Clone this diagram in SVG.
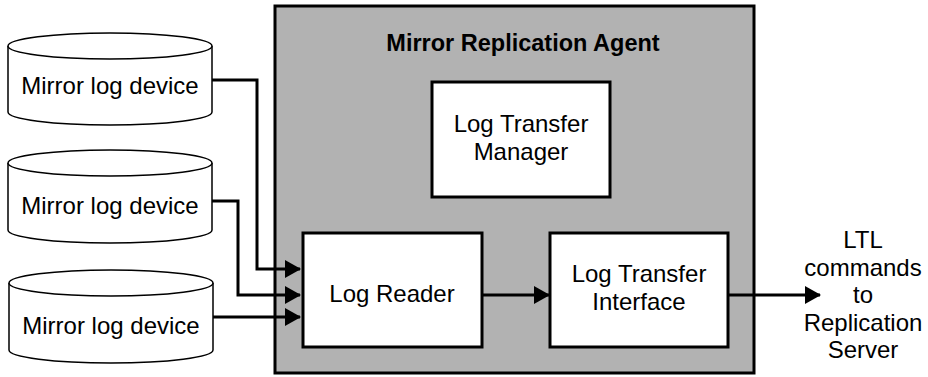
<svg xmlns="http://www.w3.org/2000/svg" width="928" height="377" viewBox="0 0 928 377">
<defs>
<style>
text{font-family:"Liberation Sans",Arial,sans-serif;font-size:24px;fill:#000;text-anchor:middle}
.title{font-weight:bold;font-size:23.5px}
.cyl{fill:#fff;stroke:#000;stroke-width:1.5}
.box{fill:#fff;stroke:#000;stroke-width:3}
.con{fill:none;stroke:#000;stroke-width:3}
</style>
<marker id="ah" markerWidth="16" markerHeight="18" refX="15" refY="9" orient="auto" markerUnits="userSpaceOnUse">
<path d="M0,0 L16,9 L0,18 Z" fill="#000"/>
</marker>
</defs>
<rect width="928" height="377" fill="#fff"/>
<g id="agent">
<rect x="275" y="6" width="479" height="367" fill="#b2b2b2" stroke="#000" stroke-width="3"/>
<text class="title" x="523" y="51">Mirror Replication Agent</text>
</g>
<g id="dev1">
<path class="cyl" d="M8,46 L8,112 A102,13 0 0 0 212,112 L212,46"/>
<ellipse class="cyl" cx="110" cy="46" rx="102" ry="13"/>
<text x="110" y="94">Mirror log device</text>
</g>
<g id="dev2">
<path class="cyl" d="M8,163 L8,230 A102,13 0 0 0 212,230 L212,163"/>
<ellipse class="cyl" cx="110" cy="163" rx="102" ry="13"/>
<text x="110" y="214">Mirror log device</text>
</g>
<g id="dev3">
<path class="cyl" d="M9,283 L9,350 A102,13 0 0 0 213,350 L213,283"/>
<ellipse class="cyl" cx="111" cy="283" rx="102" ry="13"/>
<text x="111" y="334">Mirror log device</text>
</g>
<g id="ltm">
<rect class="box" x="432" y="82" width="178" height="115"/>
<text x="521" y="132">Log Transfer</text>
<text x="521" y="160">Manager</text>
</g>
<g id="reader">
<rect class="box" x="303" y="233" width="179" height="114"/>
<text x="392" y="302">Log Reader</text>
</g>
<g id="lti">
<rect class="box" x="550" y="233" width="178" height="114"/>
<text x="639" y="282">Log Transfer</text>
<text x="639" y="310">Interface</text>
</g>
<g id="out">
<text x="863" y="248">LTL</text>
<text x="863" y="276">commands</text>
<text x="863" y="303">to</text>
<text x="863" y="331">Replication</text>
<text x="863" y="358">Server</text>
</g>
<g id="connectors">
<path class="con" d="M212,80 H257 V269 H300" marker-end="url(#ah)"/>
<path class="con" d="M212,201 H238 V295 H300" marker-end="url(#ah)"/>
<path class="con" d="M213,317 H300" marker-end="url(#ah)"/>
<path class="con" d="M482,295 H549" marker-end="url(#ah)"/>
<path class="con" d="M728,295 H820" marker-end="url(#ah)"/>
</g>
</svg>
